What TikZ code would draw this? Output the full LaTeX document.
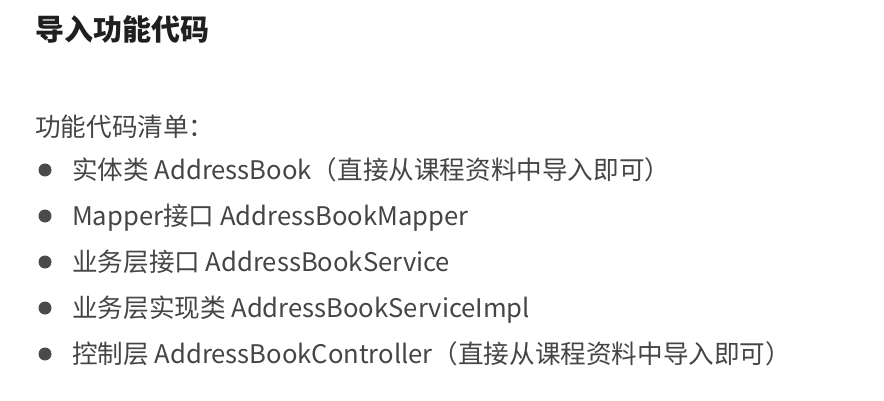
\documentclass[tikz,border=0pt]{standalone}
\usepackage{fontspec}
\usepackage{xcolor}
\setmainfont{Noto Sans CJK SC}
\usetikzlibrary{positioning}
\definecolor{txtgray}{HTML}{454545}
\definecolor{dotgray}{HTML}{4A4A4A}
\tikzset{title/.style={anchor=base west,inner sep=0pt,font=\fontsize{29}{32}\selectfont\bfseries,text=black!88},
         line/.style={anchor=base west,inner sep=0pt,font=\fontsize{25.6}{28}\selectfont,text=txtgray},
         dot/.style={circle,fill=dotgray,inner sep=0pt,minimum size=13pt}}

\begin{document}
\begin{tikzpicture}[x=1pt,y=-1pt]
    \useasboundingbox[fill=white] (0,0) rectangle (884,401);
    \node[title] (t) at (35,41) {导入功能代码};
    \node[line] (h) at (35,136.5) {功能代码清单：};

    \node[dot] (d1) at (45,170) {};
    \node[dot] (d2) at (45,216) {};
    \node[dot] (d3) at (45,262) {};
    \node[dot] (d4) at (45,308) {};
    \node[dot] (d5) at (45,354) {};

    \node[line] (a) at (72,179.5) {实体类 AddressBook（直接从课程资料中导入即可）};
    \node[line] (b) at (72,225.5) {Mapper接口 AddressBookMapper};
    \node[line] (c) at (72,271.5) {业务层接口 AddressBookService};
    \node[line] (d) at (72,317.5) {业务层实现类 AddressBookServiceImpl};
    \node[line] (e) at (72,363.5) {控制层 AddressBookController（直接从课程资料中导入即可）};
\end{tikzpicture}
\end{document}
